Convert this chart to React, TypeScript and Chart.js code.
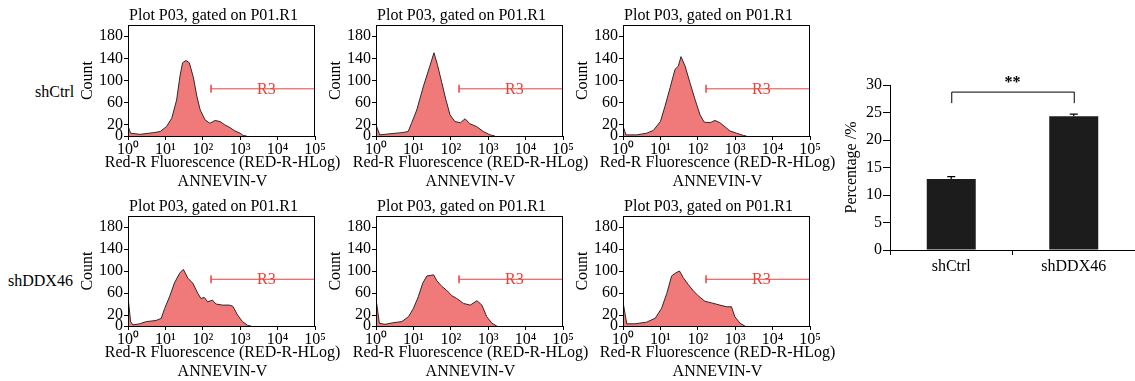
import React, { useEffect, useRef } from 'react';
import { Chart, registerables } from 'chart.js';

Chart.register(...registerables);

const FONT = "'Liberation Serif', 'Times New Roman', serif";
const FILL = 'rgb(240,122,122)';
const LINE = '#2a2a2a';
const RED = '#e8433b';

// ---- Histogram data (x = log10 fluorescence, y = count) ----
const ctrl1X = [0, 0.07, 0.32, 0.68, 0.86, 1.03, 1.17, 1.3, 1.39, 1.46, 1.55, 1.64, 1.75, 1.84, 1.93, 2.06, 2.19, 2.33, 2.46, 2.59, 2.73, 2.86, 3.0, 3.08, 3.17];
const ctrl1Y = [18, 5, 3, 6, 8, 17, 32, 65, 108, 132, 136, 132, 105, 72, 47, 29, 23, 28, 26, 20, 15, 9, 5, 1, 0];

const ctrl2X = [0, 0.1, 0.37, 0.69, 0.86, 0.95, 1.09, 1.27, 1.44, 1.55, 1.64, 1.76, 1.87, 1.98, 2.11, 2.26, 2.38, 2.51, 2.69, 2.87, 3.05, 3.18];
const ctrl2Y = [20, 2, 4, 6, 8, 23, 47, 90, 126, 150, 129, 96, 65, 38, 26, 24, 31, 22, 17, 8, 2, 0];

const ctrl3X = [0, 0.08, 0.37, 0.63, 0.81, 1.0, 1.12, 1.26, 1.39, 1.48, 1.55, 1.66, 1.79, 1.93, 2.06, 2.17, 2.33, 2.46, 2.59, 2.7, 2.86, 3.04, 3.22, 3.3];
const ctrl3Y = [18, 2, 2, 5, 10, 26, 53, 87, 120, 126, 143, 126, 96, 65, 38, 25, 24, 28, 24, 18, 9, 5, 1, 0];

const ddx1X = [0, 0.07, 0.13, 0.31, 0.49, 0.75, 0.89, 0.98, 1.11, 1.24, 1.38, 1.48, 1.6, 1.73, 1.87, 1.95, 2.04, 2.13, 2.26, 2.35, 2.53, 2.71, 2.8, 2.93, 3.06, 3.2, 3.29];
const ddx1Y = [53, 8, 2, 4, 8, 10, 14, 32, 53, 78, 96, 103, 87, 78, 59, 50, 52, 44, 47, 40, 38, 38, 36, 20, 8, 1, 0];

const ddx2X = [0, 0.09, 0.24, 0.46, 0.69, 0.87, 1.0, 1.13, 1.25, 1.36, 1.54, 1.63, 1.76, 1.89, 2.03, 2.16, 2.34, 2.52, 2.7, 2.83, 2.96, 3.1, 3.23];
const ddx2Y = [50, 5, 3, 6, 8, 17, 32, 53, 78, 91, 93, 82, 72, 65, 55, 50, 41, 38, 46, 38, 17, 5, 0];

const ddx3X = [0, 0.1, 0.32, 0.63, 0.86, 1.03, 1.17, 1.3, 1.42, 1.51, 1.61, 1.75, 1.88, 2.01, 2.19, 2.37, 2.59, 2.77, 2.9, 2.99, 3.13, 3.26];
const ddx3Y = [44, 4, 4, 7, 14, 32, 59, 91, 97, 100, 88, 75, 64, 55, 45, 42, 38, 35, 35, 17, 5, 0];

const histYTicks = [0, 20, 60, 100, 140, 180];
const histXTicks = [0, 1, 2, 3, 4, 5];
const histXTickLabels = ['10⁰', '10¹', '10²', '10³', '10⁴', '10⁵'];
const histTitle = 'Plot P03, gated on P01.R1';
const histXTitle = ['Red-R Fluorescence (RED-R-HLog)', 'ANNEVIN-V'];
const histYTitle = 'Count';

// R3 gate
const gateX = [2.22, 5];
const gateY = [85, 85];
const gateLabel = 'R3';
const gateLabelX = 3.7;

// ---- Bar chart data ----
const barCategories = ['shCtrl', 'shDDX46'];
const barValues = [12.9, 24.3];
const barErrors = [0.45, 0.4];
const sigBracketY = 28.8;
const sigDropY = 26.7;
const sigLabel = '**';
const barYTitle = 'Percentage /%';

const rowLabels = ['shCtrl', 'shDDX46'];

const histPlugin = {
  id: 'histDecor',
  afterDatasetsDraw(chart: any) {
    const { ctx, chartArea, scales } = chart;
    ctx.save();
    ctx.strokeStyle = '#000';
    ctx.lineWidth = 1;
    ctx.strokeRect(chartArea.left + 0.5, chartArea.top + 0.5, chartArea.right - chartArea.left - 1, chartArea.bottom - chartArea.top);
    // R3 label
    ctx.fillStyle = RED;
    ctx.font = `16px ${FONT}`;
    ctx.textAlign = 'center';
    ctx.textBaseline = 'middle';
    ctx.fillText(gateLabel, scales.x.getPixelForValue(gateLabelX), scales.y.getPixelForValue(gateY[0]) + 1);
    // panel title
    ctx.fillStyle = '#000';
    const cx = (chartArea.left + chartArea.right) / 2;
    ctx.fillText(histTitle, cx - 8, chartArea.top - 9);
    // x-axis title (two lines)
    ctx.fillText(histXTitle[0], cx + 1, chartArea.bottom + 27);
    ctx.fillText(histXTitle[1], cx + 1, chartArea.bottom + 45.5);
    ctx.restore();
  },
};

function Histogram({ xs, ys, areaLeft, areaRight, top, padTop }: any) {
  const ref = useRef<HTMLCanvasElement>(null);
  const yw = 50;
  const pr = 25;
  const left = areaLeft - yw;
  const width = areaRight - areaLeft + yw + pr;
  const height = 190;
  useEffect(() => {
    const chart = new Chart(ref.current as HTMLCanvasElement, {
      type: 'line',
      data: {
        datasets: [
          {
            data: xs.map((x: number, i: number) => ({ x, y: ys[i] })),
            fill: 'origin',
            backgroundColor: FILL,
            borderColor: LINE,
            borderWidth: 1,
            pointRadius: 0,
            tension: 0,
            order: 2,
          } as any,
          {
            data: gateX.map((x, i) => ({ x, y: gateY[i] })),
            fill: false,
            borderColor: RED,
            borderWidth: 1,
            pointStyle: 'line',
            pointRadius: 4,
            rotation: 90,
            pointBorderColor: [RED, '#333'],
            pointBorderWidth: 1.5,
            order: 1,
          } as any,
        ],
      },
      options: {
        animation: false,
        responsive: false,
        maintainAspectRatio: false,
        layout: { padding: { left: 0, right: pr, top: padTop, bottom: 0 } },
        plugins: { legend: { display: false }, tooltip: { enabled: false }, title: { display: false } },
        scales: {
          x: {
            type: 'linear',
            min: 0,
            max: 5,
            afterBuildTicks: (s: any) => {
              s.ticks = histXTicks.map((v) => ({ value: v }));
            },
            afterFit: (s: any) => {
              s.height = 54;
              s.paddingLeft = 0;
              s.paddingRight = 0;
            },
            ticks: {
              callback: (_v: any, i: number) => histXTickLabels[i],
              color: '#000',
              font: { size: 16, family: FONT },
              padding: 0,
              maxRotation: 0,
              autoSkip: false,
            },
            grid: { drawOnChartArea: false, drawTicks: true, tickLength: 4, color: '#000' },
            border: { display: true, color: '#000' },
            title: { display: false },
          },
          y: {
            type: 'linear',
            min: 0,
            max: 200,
            afterBuildTicks: (s: any) => {
              s.ticks = histYTicks.map((v) => ({ value: v }));
            },
            afterFit: (s: any) => {
              s.width = yw;
              s.paddingTop = 0;
              s.paddingBottom = 0;
            },
            ticks: { color: '#000', font: { size: 16, family: FONT }, padding: 1, autoSkip: false },
            grid: { drawOnChartArea: false, drawTicks: true, tickLength: 4, color: '#000' },
            border: { display: true, color: '#000' },
            title: {
              display: true,
              text: histYTitle,
              color: '#000',
              font: { size: 16, family: FONT, lineHeight: 1.15 },
              padding: { top: 1, bottom: 0 },
            },
          },
        },
      } as any,
      plugins: [histPlugin],
    });
    return () => chart.destroy();
  }, []);
  return (
    <canvas
      ref={ref}
      width={width}
      height={height}
      style={{ position: 'absolute', left, top, width, height }}
    />
  );
}

const barPlugin = {
  id: 'barDecor',
  afterDatasetsDraw(chart: any) {
    const { ctx, scales } = chart;
    const x = scales.x;
    const y = scales.y;
    ctx.save();
    ctx.strokeStyle = '#000';
    ctx.lineWidth = 1.2;
    barValues.forEach((v, i) => {
      const px = x.getPixelForValue(i);
      const yTop = y.getPixelForValue(v + barErrors[i]);
      const yBar = y.getPixelForValue(v);
      ctx.beginPath();
      ctx.moveTo(px, yBar);
      ctx.lineTo(px, yTop);
      ctx.moveTo(px - 4, yTop);
      ctx.lineTo(px + 4, yTop);
      ctx.stroke();
    });
    const x0 = x.getPixelForValue(0);
    const x1 = x.getPixelForValue(1);
    const yb = y.getPixelForValue(sigBracketY);
    const yd = y.getPixelForValue(sigDropY);
    ctx.lineWidth = 1;
    ctx.beginPath();
    ctx.moveTo(x0 + 0.5, yd);
    ctx.lineTo(x0 + 0.5, yb + 0.5);
    ctx.lineTo(x1 + 0.5, yb + 0.5);
    ctx.lineTo(x1 + 0.5, yd);
    ctx.stroke();
    ctx.fillStyle = '#000';
    ctx.font = `bold 16px ${FONT}`;
    ctx.textAlign = 'center';
    ctx.textBaseline = 'middle';
    ctx.fillText(sigLabel, (x0 + x1) / 2, yb - 9);
    ctx.restore();
  },
};

function BarPanel() {
  const ref = useRef<HTMLCanvasElement>(null);
  const left = 838;
  const top = 60;
  const width = 297;
  const height = 225;
  useEffect(() => {
    const chart = new Chart(ref.current as HTMLCanvasElement, {
      type: 'bar',
      data: {
        labels: barCategories,
        datasets: [
          {
            data: barValues,
            backgroundColor: '#1c1c1c',
            borderWidth: 0,
            barPercentage: 0.4,
            categoryPercentage: 1,
          },
        ],
      },
      options: {
        animation: false,
        responsive: false,
        maintainAspectRatio: false,
        layout: { padding: { left: 0, right: 0, top: 25, bottom: 0 } },
        plugins: { legend: { display: false }, tooltip: { enabled: false } },
        scales: {
          x: {
            grid: { offset: true, drawOnChartArea: false, drawTicks: true, tickLength: 5, color: '#000' },
            border: { display: true, color: '#000' },
            ticks: { color: '#000', font: { size: 16, family: FONT }, padding: 2 },
            afterFit: (s: any) => {
              s.height = 35;
              s.paddingLeft = 0;
              s.paddingRight = 0;
            },
          },
          y: {
            min: 0,
            max: 30,
            ticks: { stepSize: 5, color: '#000', font: { size: 16, family: FONT }, padding: 1 },
            grid: { drawOnChartArea: false, drawTicks: true, tickLength: 7, color: '#000' },
            border: { display: true, color: '#000' },
            title: {
              display: true,
              text: barYTitle,
              color: '#000',
              font: { size: 16, family: FONT, lineHeight: 1.15 },
              padding: { top: 5, bottom: 0 },
            },
            afterFit: (s: any) => {
              s.width = 52;
              s.paddingTop = 0;
              s.paddingBottom = 0;
            },
          },
        },
      } as any,
      plugins: [barPlugin],
    });
    return () => chart.destroy();
  }, []);
  return (
    <canvas
      ref={ref}
      width={width}
      height={height}
      style={{ position: 'absolute', left, top, width, height }}
    />
  );
}

const labelStyle: React.CSSProperties = {
  position: 'absolute',
  fontFamily: FONT,
  fontSize: 16,
  lineHeight: '16px',
  color: '#000',
  whiteSpace: 'nowrap',
};

export default function App() {
  return (
    <div style={{ position: 'absolute', left: 0, top: 0, width: 1135, height: 381, background: '#fff', overflow: 'hidden' }}>
      <div style={{ ...labelStyle, left: 35, top: 84 }}>{rowLabels[0]}</div>
      <div style={{ ...labelStyle, left: 8, top: 273 }}>{rowLabels[1]}</div>
      <Histogram xs={ctrl1X} ys={ctrl1Y} areaLeft={128} areaRight={315} top={0} padTop={25} />
      <Histogram xs={ctrl2X} ys={ctrl2Y} areaLeft={376} areaRight={563} top={0} padTop={25} />
      <Histogram xs={ctrl3X} ys={ctrl3Y} areaLeft={623} areaRight={810} top={0} padTop={25} />
      <Histogram xs={ddx1X} ys={ddx1Y} areaLeft={128} areaRight={315} top={190} padTop={26} />
      <Histogram xs={ddx2X} ys={ddx2Y} areaLeft={376} areaRight={563} top={190} padTop={26} />
      <Histogram xs={ddx3X} ys={ddx3Y} areaLeft={623} areaRight={810} top={190} padTop={26} />
      <BarPanel />
    </div>
  );
}
